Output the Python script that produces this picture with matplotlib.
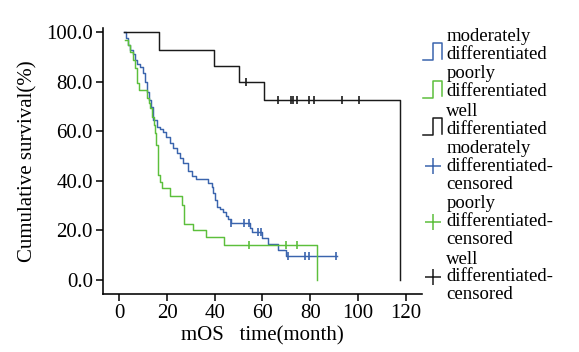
import numpy as np
import matplotlib
matplotlib.use('Agg')
import matplotlib.pyplot as plt
from matplotlib.lines import Line2D
from matplotlib.legend_handler import HandlerBase

plt.rcParams['font.family'] = ['Liberation Serif', 'DejaVu Serif']

# step curves: time of each drop (month) and survival (%) after it
mod_t = [2.1, 2.8, 3.6, 4.5, 5.7, 6.6, 7.4, 8.7, 9.9, 10.8, 11.6, 12.5, 13.1, 14.1, 15.7,
         17.1, 18.4, 19.6, 21.3, 22.5, 24.1, 25.5, 26.8, 28.9, 30.5, 32.2, 37.2, 38.7, 39.3,
         40.1, 41.1, 42.2, 43.6, 44.7, 45.7, 46.6, 54.8, 55.5, 59.7, 62.5, 66.7, 69.7, 91.2]
mod_s = [100, 97.8, 94.9, 92.9, 91.3, 88.9, 87.3, 86.2, 83.6, 80.0, 76.0, 72.7, 69.9, 64.6, 61.9,
         61.0, 59.9, 57.8, 55.2, 53.3, 51.2, 49.3, 47.2, 44.0, 42.0, 40.7, 39.2, 37.6, 35.2,
         32.3, 29.6, 28.7, 27.5, 25.9, 24.6, 22.9, 20.9, 19.5, 16.8, 14.5, 12.1, 9.7, 9.7]
mod_cens = [46.9, 52.4, 54.4, 58.3, 59.3, 70.5, 77.9, 79.5, 90.9]

poor_t = [2.4, 3.8, 4.5, 5.9, 6.6, 7.5, 8.1, 11.5, 12.2, 12.9, 13.5, 14.3, 14.8, 15.2, 16.0,
          16.2, 17.1, 18.0, 21.3, 26.2, 26.9, 30.9, 36.4, 43.9, 82.8]
poor_s = [97.0, 94.9, 92.2, 88.9, 85.5, 79.5, 76.8, 73.4, 71.5, 69.4, 66.0, 62.6, 59.3, 54.5, 48.5,
          42.4, 39.7, 37.1, 34.1, 30.3, 22.6, 20.2, 17.2, 14.1, 0]
poor_cens = [54.5, 69.8, 74.4]

well_t = [2.1, 16.8, 39.8, 50.2, 60.5, 117.7]
well_s = [100, 92.9, 86.5, 80.0, 72.6, 0]
well_cens = [53.0, 66.5, 71.9, 73.0, 74.4, 79.5, 81.5, 93.5, 100.6]

groups = ['moderately\ndifferentiated', 'poorly\ndifferentiated', 'well\ndifferentiated']
colors = ['#3a64ad', '#5cbf3c', '#1a1a1a']
curves = [(mod_t, mod_s, mod_cens), (poor_t, poor_s, poor_cens), (well_t, well_s, well_cens)]


class StepHandler(HandlerBase):
    def create_artists(self, legend, orig_handle, xdescent, ydescent, width, height, fontsize, trans):
        x0 = -xdescent
        y0 = -ydescent - 0.45 * fontsize
        h = 0.9 * fontsize
        xs = [x0, x0 + 0.5 * width, x0 + 0.5 * width, x0 + 0.9 * width, x0 + 0.9 * width]
        ys = [y0, y0, y0 + h, y0 + h, y0 + 0.1 * h]
        ln = Line2D(xs, ys, color=orig_handle.get_color(), lw=1.1)
        ln.set_transform(trans)
        return [ln]


fig = plt.figure(figsize=(5.79, 3.52), dpi=100)
ax = fig.add_axes([0.1774, 0.1639, 0.5515, 0.7565])

step_handles = []
cens_handles = []
for (t, s, c), col in zip(curves, colors):
    t = np.array(t)
    s = np.array(s)
    ax.step(t, s, where='post', color=col, lw=1.05)
    idx = np.searchsorted(t, c, side='right') - 1
    ax.plot(c, s[idx], ls='none', marker='|', ms=6, mew=1.2, color=col)
    step_handles.append(Line2D([], [], color=col))
    cens_handles.append(Line2D([], [], ls='none', marker='+', ms=11, mew=1.1, color=col))

ax.set_xlim(-7, 126.9)
ax.set_ylim(-5.8, 101.8)
ax.set_xticks([0, 20, 40, 60, 80, 100, 120])
ax.set_yticks([0, 20, 40, 60, 80, 100])
ax.set_yticklabels(['%.1f' % v for v in [0, 20, 40, 60, 80, 100]])
for side in ['top', 'right']:
    ax.spines[side].set_visible(False)
for side in ['left', 'bottom']:
    ax.spines[side].set_linewidth(1.15)
ax.tick_params(labelsize=15, length=5, width=1.1, pad=2)
ax.set_xlabel('mOS   time(month)', fontsize=15, labelpad=2)
ax.set_ylabel('Cumulative survival(%)', fontsize=15, labelpad=6)

labels = groups + [g + '-\ncensored' for g in groups]
leg = fig.legend(step_handles + cens_handles, labels,
                 handler_map={h: StepHandler() for h in step_handles},
                 loc='upper left', bbox_to_anchor=(423 / 579, 1 - 28 / 352),
                 frameon=False, fontsize=13.5, borderpad=0, borderaxespad=0,
                 handlelength=1.1, handletextpad=0.15, labelspacing=0.15)
for txt in leg.get_texts():
    txt.set_linespacing(1.05)

fig.savefig('out.png', dpi=100)
